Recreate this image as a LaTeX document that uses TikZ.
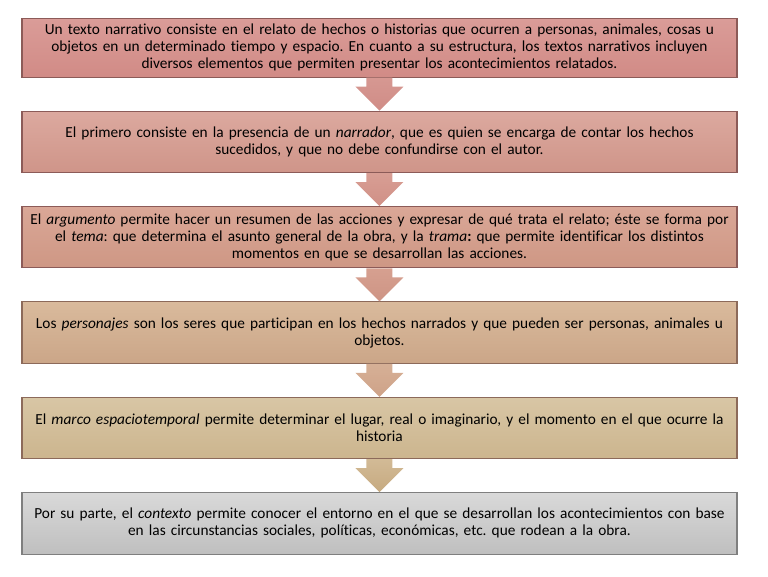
\documentclass[tikz,border=0pt]{standalone}
\usepackage{fontspec}
\setmainfont{Carlito}[Ligatures=NoCommon]
\usetikzlibrary{positioning,calc}
\definecolor{borde1}{HTML}{8C5B58}
\definecolor{borde2}{HTML}{8C6A5A}
\definecolor{borde3}{HTML}{7F7F7F}
\newcommand{\Flecha}[4]{\shade[top color=#3,bottom color=#4]
  ($(#1.south)+(-9.75pt,0)$) -- ($(#1.south)+(-9.75pt,-6.75pt)$) -- ($(#1.south)+(-18pt,-6.75pt)$)
  -- (#2.north) -- ($(#1.south)+(18pt,-6.75pt)$) -- ($(#1.south)+(9.75pt,-6.75pt)$)
  -- ($(#1.south)+(9.75pt,0)$) -- cycle;}

\begin{document}
\frenchspacing
\begin{tikzpicture}[node distance=24.75pt,
  caja/.style={draw=#1, line width=0.8pt, minimum width=536.25pt, minimum height=46pt,
    text width=528pt, align=center, inner sep=0pt, font=\fontsize{11.5}{12.75}\selectfont}]
\useasboundingbox (0,0) rectangle (576pt,-432pt);
\node [caja=borde1, top color={rgb,255:red,218;green,156;blue,152}, bottom color={rgb,255:red,209;green,139;blue,134}, minimum height=44pt] (uno) at (284.6pt,-35.8pt)
  {Un texto narrativo consiste en el relato de hechos o historias que ocurren a personas, animales, cosas u\\
   objetos en un determinado tiempo y espacio. En cuanto a su estructura, los textos narrativos incluyen\\
   diversos elementos que permiten presentar los acontecimientos relatados.};
\node [caja=borde1, top color={rgb,255:red,220;green,169;blue,159}, bottom color={rgb,255:red,207;green,149;blue,137}, below=of uno] (dos)
  {El primero consiste en la presencia de un \textit{narrador}, que es quien se encarga de contar los hechos\\
   sucedidos, y que no debe confundirse con el autor.};
\node [caja=borde1, top color={rgb,255:red,218;green,167;blue,151}, bottom color={rgb,255:red,206;green,151;blue,132}, below=of dos] (tres)
  {El \textit{argumento} permite hacer un resumen de las acciones y expresar de qué trata el relato; éste se forma por\\
   el \textit{tema}: que determina el asunto general de la obra, y la \textit{trama}\textbf{:} que permite identificar los distintos\\
   momentos en que se desarrollan las acciones.};
\node [caja=borde2, top color={rgb,255:red,217;green,186;blue,156}, bottom color={rgb,255:red,203;green,166;blue,136}, below=of tres] (cuatro)
  {Los \textit{personajes} son los seres que participan en los hechos narrados y que pueden ser personas, animales u\\
   objetos.};
\node [caja=borde2, top color={rgb,255:red,216;green,198;blue,165}, bottom color={rgb,255:red,204;green,181;blue,142}, below=of cuatro] (cinco)
  {El \textit{marco espaciotemporal} permite determinar el lugar, real o imaginario, y el momento en el que ocurre la\\
   historia};
\node [caja=borde3, top color={rgb,255:red,217;green,217;blue,217}, bottom color={rgb,255:red,191;green,191;blue,191}, below=of cinco] (seis)
  {Por su parte, el \textit{contexto} permite conocer el entorno en el que se desarrollan los acontecimientos con base\\
   en las circunstancias sociales, políticas, económicas, etc. que rodean a la obra.};

\Flecha{uno}{dos}{{rgb,255:red,214;green,152;blue,146}}{{rgb,255:red,208;green,140;blue,134}}
\Flecha{dos}{tres}{{rgb,255:red,216;green,158;blue,148}}{{rgb,255:red,208;green,144;blue,134}}
\Flecha{tres}{cuatro}{{rgb,255:red,214;green,160;blue,144}}{{rgb,255:red,206;green,148;blue,132}}
\Flecha{cuatro}{cinco}{{rgb,255:red,214;green,176;blue,150}}{{rgb,255:red,206;green,162;blue,136}}
\Flecha{cinco}{seis}{{rgb,255:red,210;green,186;blue,150}}{{rgb,255:red,198;green,170;blue,128}}
\end{tikzpicture}
\end{document}
